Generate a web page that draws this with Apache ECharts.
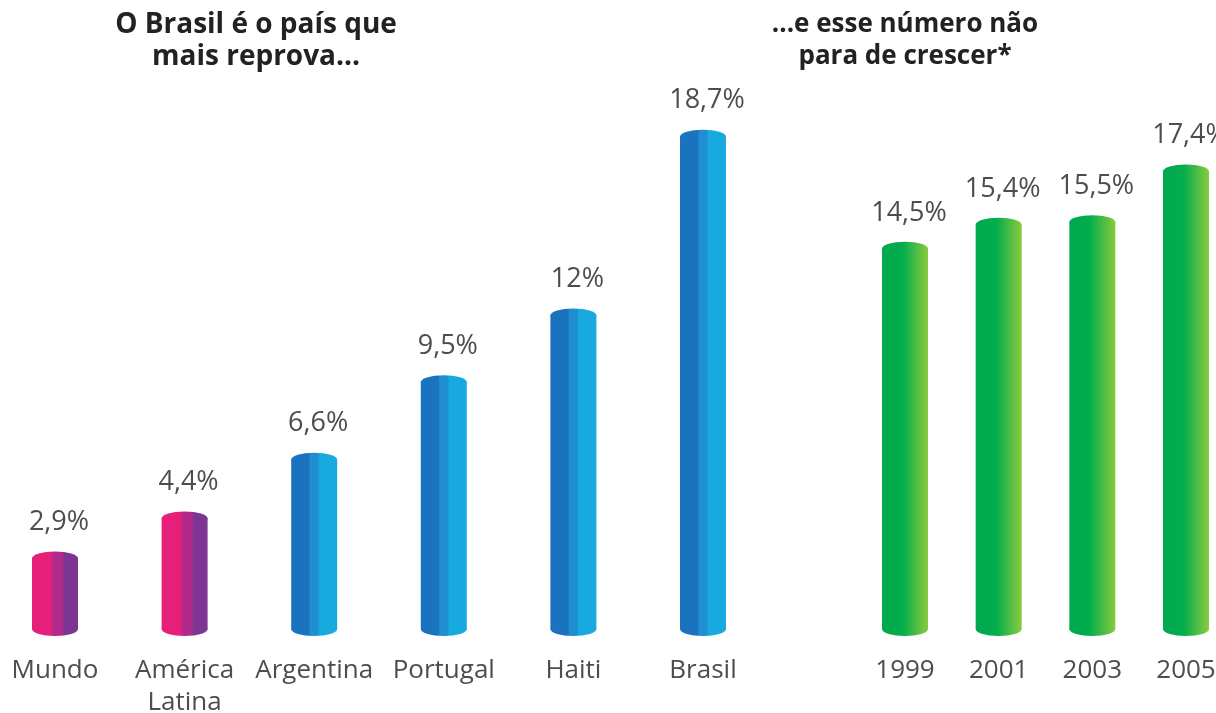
<!DOCTYPE html>
<html>
<head>
<meta charset="utf-8">
<script src="https://cdn.jsdelivr.net/npm/echarts@6/dist/echarts.min.js"></script>
<style>
html,body{margin:0;padding:0;background:#fff;}
#chart{width:1216px;height:713px;}
</style>
</head>
<body>
<div id="chart"></div>
<script>
const leftCategories = ['Mundo', 'América\nLatina', 'Argentina', 'Portugal', 'Haiti', 'Brasil'];
const leftValues = [2.9, 4.4, 6.6, 9.5, 12, 18.7];
const rightCategories = ['1999', '2001', '2003', '2005'];
const rightValues = [14.5, 15.4, 15.5, 17.4];
const leftTitle = 'O Brasil é o país que\nmais reprova...';
const rightTitle = '...e esse número não\npara de crescer*';

const FONT = '"Open Sans", "DejaVu Sans", sans-serif';

function stripes(c1, c2, c3, a, b) {
  return new echarts.graphic.LinearGradient(0, 0, 1, 0, [
    {offset: 0, color: c1}, {offset: a, color: c1},
    {offset: a + 0.04, color: c2}, {offset: b, color: c2},
    {offset: b + 0.04, color: c3}, {offset: 1, color: c3}
  ]);
}
const pinkFill = () => stripes('#e61f7a', '#b02a8b', '#7c3592', 0.42, 0.66);
const blueFill = () => stripes('#1b72bf', '#1f8fd1', '#18aadf', 0.38, 0.58);
const greenFill = () => new echarts.graphic.LinearGradient(0, 0, 1, 0, [
  {offset: 0, color: '#00a84f'}, {offset: 0.45, color: '#03ad4d'}, {offset: 1, color: '#8acb3d'}
]);

function fmt(v) {
  return (Number.isInteger(v) ? String(v) : String(v).replace('.', ',')) + '%';
}

function makeRender(fillFor) {
  return function (params, api) {
    const idx = params.dataIndex;
    const v = api.value(1);
    const top = api.coord([api.value(0), v]);
    const base = api.coord([api.value(0), 0]);
    const w = 46, rx = 23, ry = 7;
    const x = top[0];
    const capY = top[1] + ry;
    const fill = fillFor(idx);
    return {
      type: 'group',
      children: [
        {type: 'rect', shape: {x: x - w / 2, y: capY, width: w, height: base[1] - capY}, style: {fill: fill}},
        {type: 'ellipse', shape: {cx: x, cy: base[1], rx: rx, ry: ry}, style: {fill: fill}},
        {type: 'ellipse', shape: {cx: x, cy: capY, rx: rx, ry: ry}, style: {fill: fill}},
        {type: 'text', style: {
          text: fmt(v), x: x + 4, y: top[1] - 29,
          align: 'center', verticalAlign: 'middle',
          fill: '#4d4d4d', font: '27px ' + FONT
        }}
      ]
    };
  };
}

const baseLabel = {color: '#4d4d4d', fontSize: 26, fontFamily: FONT, lineHeight: 32, interval: 0, verticalAlign: 'top', margin: 26};
const titleStyle = {fontWeight: 'bold', color: '#222', lineHeight: 32, fontFamily: FONT};

const chart = echarts.init(document.getElementById('chart'), null, {renderer: 'canvas'});
chart.setOption({
  backgroundColor: '#ffffff',
  animation: false,
  title: [
    {text: leftTitle, left: 256, top: 9, textAlign: 'center', padding: 0, textStyle: Object.assign({fontSize: 28}, titleStyle)},
    {text: rightTitle, left: 905, top: 9, textAlign: 'center', padding: 0, textStyle: Object.assign({fontSize: 26}, titleStyle)}
  ],
  grid: [
    {left: 55, width: 648, top: 95, bottom: 84, containLabel: false, outerBoundsMode: 'none'},
    {left: 905, width: 281, top: 95, bottom: 84, containLabel: false, outerBoundsMode: 'none'}
  ],
  xAxis: [
    {type: 'category', gridIndex: 0, data: leftCategories, boundaryGap: false, axisLine: {show: false}, axisTick: {show: false}, splitLine: {show: false}, axisLabel: baseLabel},
    {type: 'category', gridIndex: 1, data: rightCategories, boundaryGap: false, axisLine: {show: false}, axisTick: {show: false}, splitLine: {show: false}, axisLabel: baseLabel}
  ],
  yAxis: [
    {type: 'value', gridIndex: 0, min: 0, max: 20, show: false},
    {type: 'value', gridIndex: 1, min: 0, max: 20, show: false}
  ],
  series: [
    {type: 'custom', xAxisIndex: 0, yAxisIndex: 0, clip: false,
     renderItem: makeRender(i => i < 2 ? pinkFill() : blueFill()),
     encode: {x: 0, y: 1},
     data: leftValues.map((v, i) => [i, v])},
    {type: 'custom', xAxisIndex: 1, yAxisIndex: 1, clip: false,
     renderItem: makeRender(() => greenFill()),
     encode: {x: 0, y: 1},
     data: rightValues.map((v, i) => [i, v])}
  ]
});
</script>
</body>
</html>
